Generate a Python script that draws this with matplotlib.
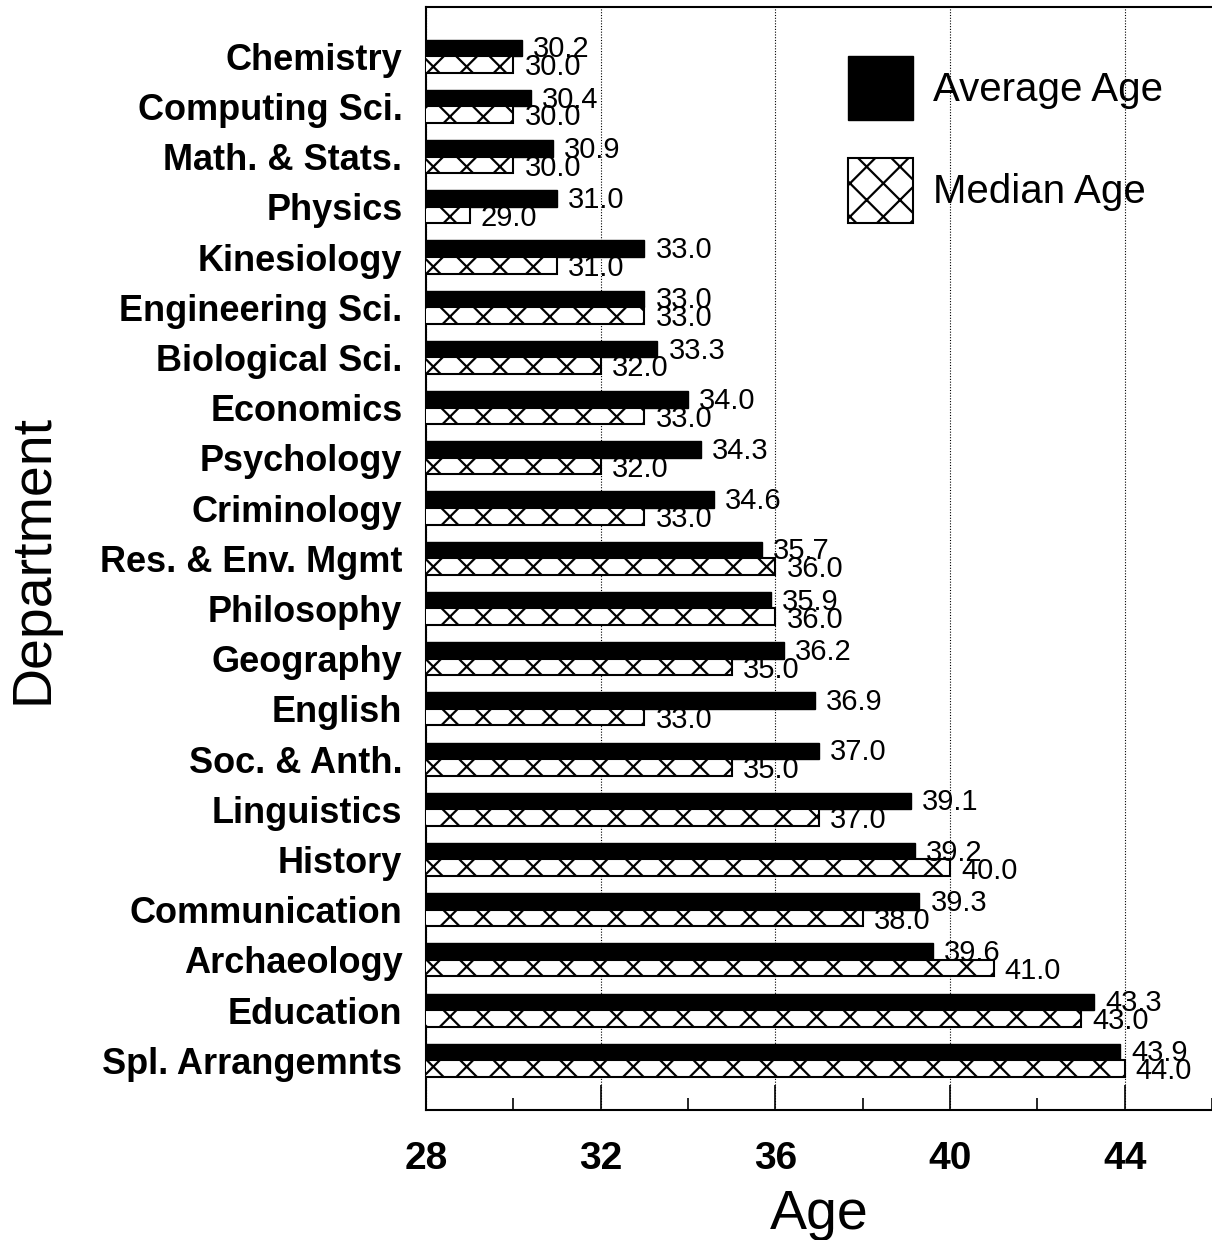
import matplotlib
matplotlib.use("Agg")
import matplotlib.pyplot as plt
from matplotlib.ticker import MultipleLocator

plt.rcParams['font.family'] = ['Liberation Sans', 'DejaVu Sans']
plt.rcParams['hatch.linewidth'] = 1.6

departments = ["Chemistry", "Computing Sci.", "Math. & Stats.", "Physics", "Kinesiology",
               "Engineering Sci.", "Biological Sci.", "Economics", "Psychology", "Criminology",
               "Res. & Env. Mgmt", "Philosophy", "Geography", "English", "Soc. & Anth.",
               "Linguistics", "History", "Communication", "Archaeology", "Education",
               "Spl. Arrangemnts"]
average_age = [30.2, 30.4, 30.9, 31.0, 33.0, 33.0, 33.3, 34.0, 34.3, 34.6, 35.7,
               35.9, 36.2, 36.9, 37.0, 39.1, 39.2, 39.3, 39.6, 43.3, 43.9]
median_age = [30.0, 30.0, 30.0, 29.0, 31.0, 33.0, 32.0, 33.0, 32.0, 33.0, 36.0,
              36.0, 35.0, 33.0, 35.0, 37.0, 40.0, 38.0, 41.0, 43.0, 44.0]
x_ticks = [28, 32, 36, 40, 44]

fig = plt.figure(figsize=(12.12, 12.4), dpi=100)
ax = fig.add_axes([426/1212, 130/1240, 1 - 426/1212, 1103/1240])

h = 0.33
ys = list(range(len(departments)))
y_avg = [y - h/2 for y in ys]
y_med = [y + h/2 for y in ys]

ax.barh(y_avg, average_age, height=h, color='black', edgecolor='black',
        linewidth=1.0, label='Average Age', zorder=3)
ax.barh(y_med, median_age, height=h, color='white', edgecolor='black',
        linewidth=1.5, hatch='x', label='Median Age', zorder=3)

for yv, v in zip(y_avg, average_age):
    ax.annotate(f"{v:.1f}", (v, yv), xytext=(8, -1), textcoords='offset points',
                va='center', ha='left', fontsize=21, zorder=4)
for yv, v in zip(y_med, median_age):
    ax.annotate(f"{v:.1f}", (v, yv), xytext=(8, -2), textcoords='offset points',
                va='center', ha='left', fontsize=21, zorder=4)

ax.set_xlim(28, 46)
ax.set_ylim(20.99, -0.98)
ax.set_yticks(ys)
ax.set_yticklabels(departments, fontsize=26, fontweight='bold')
ax.tick_params(axis='y', length=0, pad=17)

ax.set_xticks(x_ticks)
ax.set_xticklabels([str(t) for t in x_ticks], fontsize=28, fontweight='bold')
ax.xaxis.set_minor_locator(MultipleLocator(2))
ax.tick_params(axis='x', which='major', direction='in', length=18, width=1.2, pad=22)
ax.tick_params(axis='x', which='minor', direction='in', length=9, width=1.2)

ax.grid(axis='x', which='major', linestyle=(0, (1, 1.5)), color='black', linewidth=0.8, zorder=0)

for s in ['left', 'bottom', 'top']:
    ax.spines[s].set_linewidth(1.5)
ax.spines['right'].set_visible(False)

ax.set_xlabel("Age", fontsize=40)
ax.xaxis.set_label_coords(0.5, -0.072)
ax.set_ylabel("Department", fontsize=40)
ax.yaxis.set_label_coords(-0.466, 0.5)

leg = ax.legend(loc='upper left', bbox_to_anchor=(0.537, 0.956), frameon=False,
                fontsize=29, handlelength=1.62, handleheight=2.1, labelspacing=0.93,
                handletextpad=0.5, borderpad=0, borderaxespad=0)

fig.savefig("out.png", dpi=100)
